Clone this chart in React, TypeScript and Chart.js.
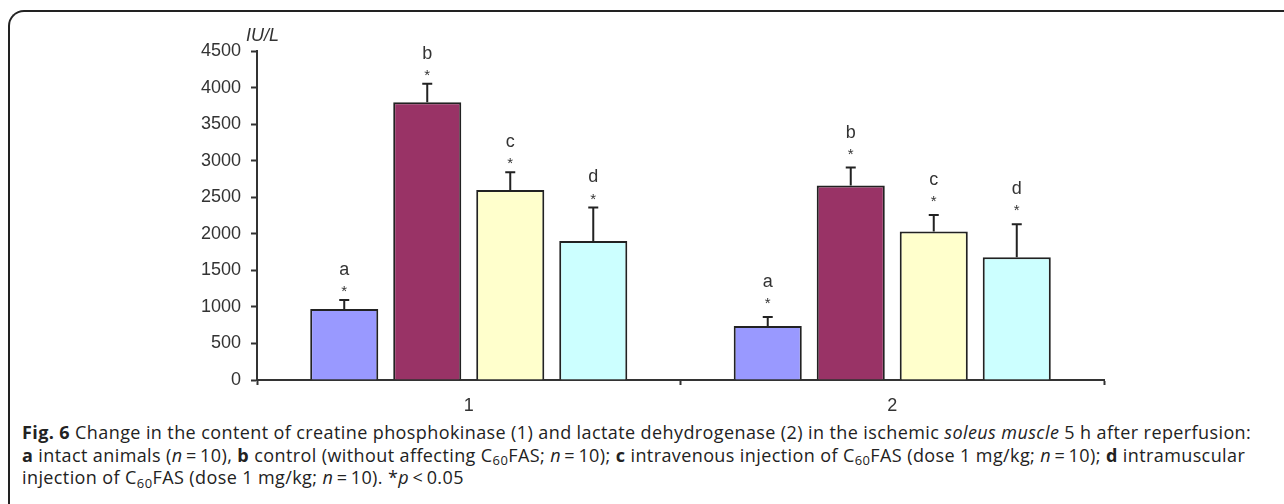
import React, { useEffect, useRef } from "react";
import { Chart, registerables } from "chart.js";
Chart.register(...registerables);

// ---- data ----
const categories = ["1", "2"];
const seriesLetters = ["a", "b", "c", "d"];
const seriesA = [970, 740];
const seriesB = [3800, 2660];
const seriesC = [2600, 2030];
const seriesD = [1900, 1680];
const errorA = [123, 123];
const errorB = [252, 245];
const errorC = [241, 228];
const errorD = [461, 452];
const yTickValues = [0, 500, 1000, 1500, 2000, 2500, 3000, 3500, 4000, 4500];
const yTickLabels = ["0", "500", "1000", "1500", "2000", "2500", "3000", "3500", "4000", "4500"];
const yUnit = "IU/L";

// ---- styles ----
const barColors = ["#9999FF", "#993366", "#FFFFCC", "#CCFFFF"];
const ink = "#333333";
const chartFont = "'Liberation Sans', Arial, sans-serif";
const starGapPx = [11, 16]; // distance from error-bar top to asterisk, per category

const annotationPlugin = {
  id: "errAndLabels",
  afterDatasetsDraw(chart: any) {
    const ctx = chart.ctx;
    const y = chart.scales.y;
    const errs = [errorA, errorB, errorC, errorD];
    ctx.save();
    chart.data.datasets.forEach((ds: any, i: number) => {
      const meta = chart.getDatasetMeta(i);
      meta.data.forEach((el: any, j: number) => {
        const v = ds.data[j];
        const top = y.getPixelForValue(v);
        const et = y.getPixelForValue(v + errs[i][j]);
        const x = el.x;
        ctx.strokeStyle = "#222";
        ctx.lineWidth = 2;
        ctx.beginPath();
        ctx.moveTo(x, top);
        ctx.lineTo(x, et);
        ctx.moveTo(x - 5, et);
        ctx.lineTo(x + 5, et);
        ctx.stroke();
        ctx.fillStyle = ink;
        ctx.textAlign = "center";
        ctx.textBaseline = "middle";
        const starY = et - starGapPx[j];
        ctx.font = `15px ${chartFont}`;
        ctx.fillText("*", x, starY + 3);
        ctx.font = `18px ${chartFont}`;
        ctx.fillText(seriesLetters[i], x, starY - 19);
      });
    });
    // unit label
    ctx.font = `italic 18px ${chartFont}`;
    ctx.textAlign = "left";
    ctx.textBaseline = "middle";
    ctx.fillStyle = ink;
    ctx.fillText(yUnit, 246, 36);
    ctx.restore();
  },
};

function BarChart() {
  const ref = useRef<HTMLCanvasElement | null>(null);
  useEffect(() => {
    if (!ref.current) return;
    const seriesList = [seriesA, seriesB, seriesC, seriesD];
    const chart = new Chart(ref.current, {
      type: "bar",
      data: {
        labels: categories,
        datasets: seriesList.map((s, i) => ({
          label: seriesLetters[i],
          data: s,
          backgroundColor: barColors[i],
          borderColor: "#222",
          borderWidth: 2,
          categoryPercentage: 0.784,
          barPercentage: 0.82,
        })),
      },
      options: {
        responsive: false,
        animation: false,
        devicePixelRatio: 1,
        layout: { padding: { left: 0, top: 51, right: 180, bottom: 0 } },
        plugins: { legend: { display: false }, tooltip: { enabled: false } },
        scales: {
          x: {
            afterFit: (s: any) => {
              s.height = 40;
            },
            grid: {
              display: true,
              drawOnChartArea: false,
              drawTicks: true,
              tickLength: 5,
              tickColor: ink,
              tickWidth: 2,
              offset: true,
            },
            border: { display: true, color: ink, width: 2 },
            ticks: {
              color: ink,
              font: { family: chartFont, size: 18 },
              padding: 10,
            },
          },
          y: {
            min: 0,
            max: 4500,
            afterFit: (s: any) => {
              s.width = 257;
            },
            afterBuildTicks: (s: any) => {
              s.ticks = yTickValues.map((v) => ({ value: v }));
            },
            grid: {
              display: true,
              drawOnChartArea: false,
              drawTicks: true,
              tickLength: 6,
              tickColor: ink,
              tickWidth: 2,
            },
            border: { display: true, color: ink, width: 2 },
            ticks: {
              color: ink,
              font: { family: chartFont, size: 18 },
              padding: 10,
              callback: (v: any) => {
                const k = yTickValues.indexOf(Number(v));
                return k >= 0 ? yTickLabels[k] : "";
              },
            },
          },
        },
      },
      plugins: [annotationPlugin],
    });
    return () => chart.destroy();
  }, []);
  return (
    <canvas
      ref={ref}
      width={1284}
      height={420}
      style={{ position: "absolute", left: 0, top: 0, width: 1284, height: 420, display: "block" }}
    />
  );
}

const Sub = ({ children }: { children: any }) => (
  <span style={{ fontSize: "0.72em", position: "relative", top: "0.3em", lineHeight: 0 }}>{children}</span>
);

export default function App() {
  const th = "\u2009";
  return (
    <div
      style={{
        position: "fixed",
        left: 0,
        top: 0,
        width: 1284,
        height: 504,
        background: "#fff",
        overflow: "hidden",
      }}
    >
      <div
        style={{
          position: "absolute",
          left: 8,
          top: 10,
          width: 1320,
          height: 540,
          borderTop: "2px solid #222",
          borderLeft: "2px solid #222",
          borderTopLeftRadius: 16,
          boxSizing: "border-box",
        }}
      />
      <BarChart />
      <div
        style={{
          position: "absolute",
          left: 22,
          top: 421,
          width: 1260,
          fontFamily: "'Open Sans', 'Noto Sans', sans-serif",
          fontSize: 18,
          letterSpacing: "0.4px",
          lineHeight: "22.5px",
          color: "#222",
          whiteSpace: "nowrap",
        }}
      >
        <div>
          <b>Fig. 6</b> Change in the content of creatine phosphokinase (1) and lactate dehydrogenase (2) in the
          ischemic <i>soleus muscle</i> 5 h after reperfusion:
        </div>
        <div>
          <b>a</b> intact animals (<i>n</i>
          {th}={th}10), <b>b</b> control (without affecting C<Sub>60</Sub>FAS; <i>n</i>
          {th}={th}10); <b>c</b> intravenous injection of C<Sub>60</Sub>FAS (dose 1 mg/kg; <i>n</i>
          {th}={th}10); <b>d</b> intramuscular
        </div>
        <div>
          injection of C<Sub>60</Sub>FAS (dose 1 mg/kg; <i>n</i>
          {th}={th}10). *<i>p</i>
          {th}&lt;{th}0.05
        </div>
      </div>
    </div>
  );
}
